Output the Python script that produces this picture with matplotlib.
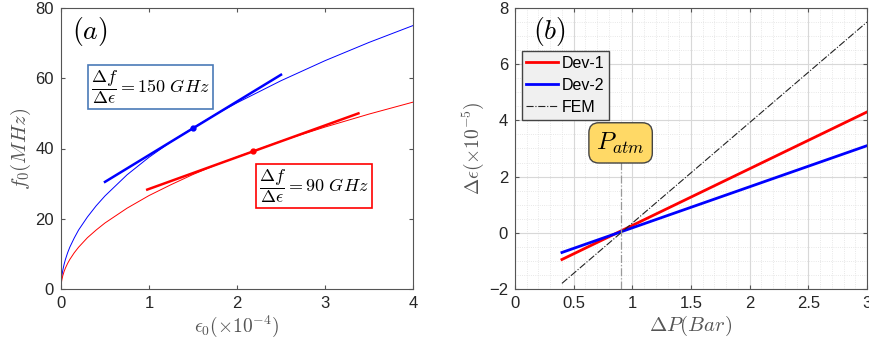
# Strain sensitivity (a) and pressure response (b)

import numpy as np
import matplotlib.pyplot as plt
from matplotlib.ticker import MultipleLocator

plt.rcParams['font.family'] = ['Liberation Sans', 'DejaVu Sans']
plt.rcParams['mathtext.fontset'] = 'cm'

# --- panel (a) data ---
eps0 = [0, 0.0005, 0.001, 0.002, 0.005, 0.01, 0.02, 0.035, 0.05, 0.075, 0.1, 0.15, 0.2, 0.3, 0.4,
        0.5, 0.75, 1, 1.25, 1.5, 1.75, 2, 2.5, 3, 3.5, 4]
f_blue = [0, 0.84, 1.19, 1.68, 2.65, 3.75, 5.3, 7.0, 8.4, 10.3, 11.9, 14.5, 16.8, 20.5, 23.7,
          26.5, 32.5, 37.5, 41.9, 45.9, 49.6, 53.0, 59.3, 65.0, 70.2, 75.0]
f_red = [0, 0.59, 0.84, 1.19, 1.88, 2.66, 3.76, 4.98, 5.95, 7.28, 8.41, 10.3, 11.9, 14.6, 16.8,
         18.8, 23.0, 26.6, 29.7, 32.6, 35.2, 37.6, 42.1, 46.1, 49.8, 53.2]
tan_blue_x = [0.5, 2.5]
tan_blue_y = [30.5, 61.0]
tan_red_x = [0.98, 3.38]
tan_red_y = [28.3, 50.0]
pt_blue = (1.5, 45.8)
pt_red = (2.18, 39.2)

# --- panel (b) data ---
dP = [0.4, 3.0]
dev1 = [-0.95, 4.3]
dev2 = [-0.7, 3.1]
fem = [-1.8, 7.5]
p_atm = 0.9

tick_col = '#262626'
spine_col = '#555555'

fig = plt.figure(figsize=(8.7, 3.47), dpi=100)
ax1 = fig.add_axes([61/870, 1 - 289/347, 352/870, 281/347])
ax2 = fig.add_axes([515/870, 1 - 289/347, 352/870, 281/347])

for ax in (ax1, ax2):
    for s in ax.spines.values():
        s.set_color(spine_col)
        s.set_linewidth(0.8)
    ax.tick_params(direction='in', top=True, right=True, colors=spine_col,
                   labelcolor=tick_col, labelsize=12, length=3, pad=5)

# panel (a)
ax1.plot(eps0, f_blue, color='blue', lw=0.7)
ax1.plot(eps0, f_red, color='red', lw=0.7)
ax1.plot(tan_blue_x, tan_blue_y, color='blue', lw=1.8)
ax1.plot(tan_red_x, tan_red_y, color='red', lw=1.8)
ax1.plot(*pt_blue, 'o', color='blue', ms=3.5)
ax1.plot(*pt_red, 'o', color='red', ms=3.5)
ax1.set_xlim(0, 4)
ax1.set_ylim(0, 80)
ax1.set_xticks([0, 1, 2, 3, 4])
ax1.set_yticks([0, 20, 40, 60, 80])
ax1.set_xlabel(r'$\epsilon_0(\times10^{-4})$', fontsize=14, color='#555555', labelpad=2)
ax1.set_ylabel(r'$f_0(MHz)$', fontsize=15, color='#555555', labelpad=2)
ax1.text(0.03, 0.975, r'$(a)$', transform=ax1.transAxes, fontsize=20, va='top', ha='left')
ax1.text(0.34, 57.5, r'$\dfrac{\Delta f}{\Delta \epsilon} = 150\ GHz$', fontsize=13, va='center',
         bbox=dict(boxstyle='square,pad=0.18', fc='white', ec='#4a7ab8', lw=1.2))
ax1.text(2.25, 29.3, r'$\dfrac{\Delta f}{\Delta \epsilon} = 90\ GHz$', fontsize=13, va='center',
         bbox=dict(boxstyle='square,pad=0.18', fc='white', ec='red', lw=1.2))

# panel (b)
ax2.set_axisbelow(True)
ax2.xaxis.set_minor_locator(MultipleLocator(0.1))
ax2.yaxis.set_minor_locator(MultipleLocator(0.5))
ax2.grid(which='major', color='#d8d8d8', lw=0.8)
ax2.grid(which='minor', color='#e0e0e0', lw=0.6, ls=':')
ax2.tick_params(which='minor', length=0)
ax2.plot(dP, dev1, color='red', lw=2, label='Dev-1')
ax2.plot(dP, dev2, color='blue', lw=2, label='Dev-2')
ax2.plot(dP, fem, color='#222222', lw=0.8, ls='-.', label='FEM')
ax2.plot([p_atm, p_atm], [-2, 2.6], color='#999999', lw=0.9, ls='-.')
ax2.set_xlim(0, 3)
ax2.set_ylim(-2, 8)
ax2.set_xticks([0, 0.5, 1, 1.5, 2, 2.5, 3])
ax2.set_xticklabels(['0', '0.5', '1', '1.5', '2', '2.5', '3'])
ax2.set_yticks([-2, 0, 2, 4, 6, 8])
ax2.set_xlabel(r'$\Delta P(Bar)$', fontsize=15, color='#555555', labelpad=2)
ax2.set_ylabel(r'$\Delta\epsilon(\times10^{-5})$', fontsize=14, color='#555555', labelpad=2)
ax2.text(0.05, 0.975, r'$(b)$', transform=ax2.transAxes, fontsize=20, va='top', ha='left')
ax2.text(p_atm, 3.2, r'$P_{atm}$', fontsize=18, ha='center', va='center',
         bbox=dict(boxstyle='round,pad=0.3,rounding_size=0.4', fc='#ffd966', ec='#444444', lw=1))
leg = ax2.legend(loc='upper left', bbox_to_anchor=(0.005, 0.865), fontsize=11.5, handlelength=2.0,
                 handletextpad=0.2, borderpad=0.3, labelspacing=0.45, fancybox=False,
                 framealpha=1, borderaxespad=0.3)
leg.get_frame().set_facecolor('#f0f0f0')
leg.get_frame().set_edgecolor('#444444')

fig.savefig('out.png', dpi=100)
